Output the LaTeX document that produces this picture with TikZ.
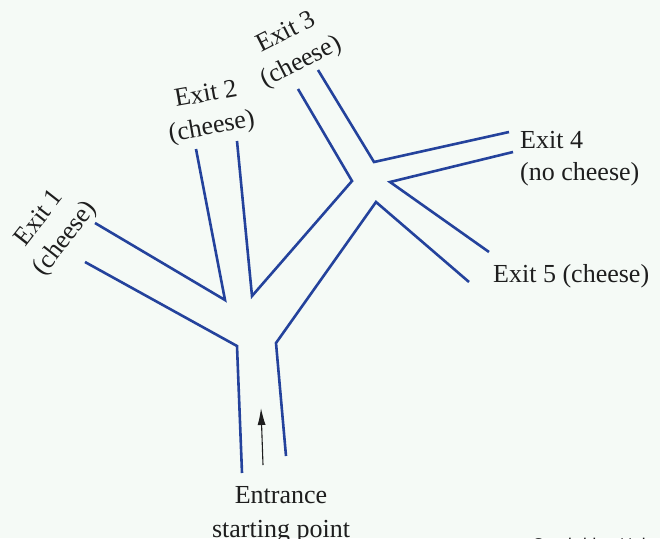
\documentclass[tikz,border=0pt]{standalone}
\usepackage{fontspec}
\setmainfont{Liberation Serif}
\newfontfamily\wmfont{Liberation Sans}
\usetikzlibrary{arrows.meta}
\definecolor{bg}{RGB}{245,250,246}
\definecolor{wall}{RGB}{36,66,156}
\definecolor{txt}{RGB}{30,30,30}
\begin{document}
\begin{tikzpicture}[x=1pt,y=-1pt,
  wallline/.style={draw=wall,line width=2.6pt,line join=miter},
  lbl/.style={text=txt,font=\fontsize{26}{33}\selectfont,inner sep=0pt,align=center},
  lbll/.style={lbl,align=left,anchor=base west}]
\useasboundingbox (0,0) rectangle (660,538);
\fill[bg] (0,0) rectangle (660,538);
% walls
\coordinate (a1) at (242,473);
\coordinate (a2) at (237,346);
\coordinate (a3) at (85,262);
\coordinate (b1) at (95,223);
\coordinate (b2) at (225,300);
\coordinate (b3) at (196,149);
\coordinate (c1) at (237,141);
\coordinate (c2) at (252,296);
\coordinate (c3) at (352,181);
\coordinate (c4) at (298,89);
\coordinate (d1) at (318,70);
\coordinate (d2) at (374,162);
\coordinate (d3) at (509,132);
\coordinate (e1) at (513,152);
\coordinate (e2) at (390,182);
\coordinate (e3) at (489,252);
\coordinate (f1) at (469,282);
\coordinate (f2) at (376,202);
\coordinate (f3) at (276,343);
\coordinate (f4) at (286,456);
\draw[wallline] (a1) -- (a2) -- (a3);
\draw[wallline] (b1) -- (b2) -- (b3);
\draw[wallline] (c1) -- (c2) -- (c3) -- (c4);
\draw[wallline] (d1) -- (d2) -- (d3);
\draw[wallline] (e1) -- (e2) -- (e3);
\draw[wallline] (f1) -- (f2) -- (f3) -- (f4);
% arrow
\coordinate (ar0) at (263,465);
\coordinate (ar1) at (261,408);
\draw[txt,line width=1.1pt,-{Latex[length=17pt,width=8pt]}] (ar0) -- (ar1);
% labels
\node[lbl,rotate=52] (x1) at (53,229) {Exit 1\\(cheese)};
\node[lbl,rotate=10] (x2) at (209,112) {Exit 2\\(cheese)};
\node[lbl,rotate=27] (x3) at (294,48) {Exit 3\\(cheese)};
\node[lbll] (x4a) at (520,148) {Exit 4};
\node[lbll] (x4b) at (520,180) {(no cheese)};
\node[lbll] (x5) at (493,282) {Exit 5 (cheese)};
\node[lbl,anchor=base] (en1) at (281,503) {Entrance};
\node[lbl,anchor=base] (en2) at (281,537) {starting point};
\begin{scope}
\clip (0,0) rectangle (660,538);
\node[anchor=base west,inner sep=0pt,text=txt,font=\wmfont\fontsize{17}{20}\selectfont] (wm) at (532,550) {Cambridge University Press};
\end{scope}
\end{tikzpicture}
\end{document}
